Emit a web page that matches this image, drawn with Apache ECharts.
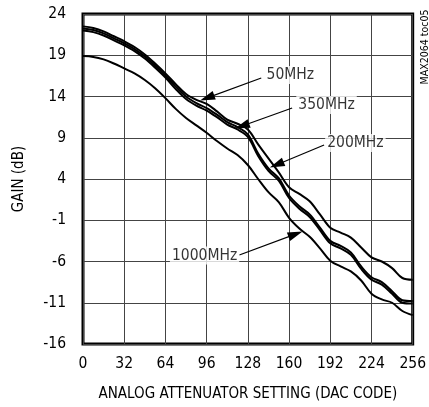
<!DOCTYPE html>
<html>
<head>
<meta charset="utf-8">
<script src="https://cdn.jsdelivr.net/npm/echarts@6/dist/echarts.min.js"></script>
<style>
html,body{margin:0;padding:0;background:#fff;}
#c{width:429px;height:407px;}
</style>
</head>
<body>
<div id="c"></div>
<script>
// DAC codes (x)
const codes = [0,8,16,24,32,40,48,56,64,72,80,88,96,104,112,120,128,136,144,152,160,168,176,184,192,200,208,216,224,232,240,248,256];
// Gain (dB) per frequency
const gain50   = [22.5,22.3,21.9,21.3,20.7,20.0,19.1,18.0,16.8,15.5,14.3,13.6,13.1,12.2,11.2,10.7,10.0,8.2,6.5,4.8,3.0,2.2,1.3,-0.3,-1.9,-2.5,-3.1,-4.3,-5.5,-6.0,-6.8,-8.0,-8.2];
const gain350  = [22.25,22.05,21.65,21.05,20.45,19.75,18.85,17.75,16.55,15.2,14.0,13.2,12.6,11.8,10.9,10.3,9.4,7.1,5.3,4.1,2.0,0.7,-0.3,-1.9,-3.5,-4.1,-4.9,-6.6,-7.9,-8.5,-9.6,-10.7,-10.8];
const gain200  = [22.0,21.8,21.4,20.8,20.2,19.5,18.6,17.5,16.3,14.9,13.7,12.9,12.3,11.5,10.6,10.0,9.1,6.8,5.0,3.8,1.7,0.4,-0.6,-2.2,-3.8,-4.4,-5.2,-6.9,-8.2,-8.8,-9.9,-11.0,-11.1];
const gain1000 = [18.9,18.8,18.5,18.0,17.4,16.8,16.0,15.0,13.8,12.5,11.4,10.5,9.6,8.6,7.7,6.9,5.7,4.0,2.4,1.2,-0.7,-2.0,-3.0,-4.4,-5.9,-6.6,-7.2,-8.3,-9.9,-10.6,-11.0,-12.0,-12.5];
const seriesNames = ['50MHz','350MHz','200MHz','1000MHz'];
// Axis ticks
const xTicks = {min:0, max:256, interval:32};
const yTicks = {min:-16, max:24, interval:5};
// Annotation placement (data coords)
const annLabelPos = [[161.0,16.6],[189.1,12.97],[211.5,8.36],[94.4,-5.27]];
const annLineFrom = [[138.4,16.24],[162.4,12.61],[187.2,8.12],[121.4,-5.21]];
const annLineTo   = [[96.4,13.83],[123.5,10.42],[150.4,5.73],[165.0,-2.68]];

const FONT = "'Liberation Sans Narrow','DejaVu Sans Condensed','Roboto Condensed',sans-serif";
const gains = [gain50, gain350, gain200, gain1000];

const lineSeries = gains.map((g, i) => ({
  name: seriesNames[i],
  type: 'line',
  data: codes.map((c, k) => [c, g[k]]),
  showSymbol: false,
  smooth: 0.35,
  lineStyle: {color: '#000', width: 2},
  z: 3,
  silent: true
}));

lineSeries[0].markLine = {
  silent: true,
  animation: false,
  symbol: ['none', 'path://M5,0L10,16L0,16Z'],
  symbolSize: 12,
  lineStyle: {color: '#000', width: 1.2, type: 'solid'},
  label: {show: false},
  data: annLineFrom.map((f, i) => [
    {coord: f, symbol: 'none'},
    {coord: annLineTo[i], symbol: 'path://M5,0L10,16L0,16Z', symbolSize: [9, 15]}
  ])
};

const labelSeries = {
  type: 'scatter',
  data: annLabelPos.map((p, i) => ({value: p, name: seriesNames[i]})),
  symbolSize: 0,
  z: 5,
  silent: true,
  label: {
    show: true,
    position: 'inside',
    formatter: '{b}',
    fontFamily: FONT,
    fontSize: 15.5,
    color: '#000',
    backgroundColor: '#fff',
    padding: [1, 2]
  }
};

const chart = echarts.init(document.getElementById('c'), null, {renderer: 'canvas'});
chart.setOption({
  animation: false,
  backgroundColor: '#fff',
  grid: {left: 83, right: 15, top: 14, bottom: 63, show: true, borderColor: '#000', borderWidth: 3, backgroundColor: 'transparent'},
  xAxis: {
    type: 'value', min: xTicks.min, max: xTicks.max, interval: xTicks.interval,
    name: 'ANALOG ATTENUATOR SETTING (DAC CODE)', nameLocation: 'middle', nameGap: 43,
    nameTextStyle: {fontFamily: FONT, fontSize: 15, color: '#000'},
    axisLine: {show: false}, axisTick: {show: false},
    axisLabel: {fontFamily: FONT, fontSize: 15.5, color: '#000', margin: 12},
    splitLine: {show: true, lineStyle: {color: '#444', width: 1}}
  },
  yAxis: {
    type: 'value', min: yTicks.min, max: yTicks.max, interval: yTicks.interval,
    name: 'GAIN (dB)', nameLocation: 'middle', nameGap: 56, nameRotate: 90,
    nameTextStyle: {fontFamily: FONT, fontSize: 15, color: '#000'},
    axisLine: {show: false}, axisTick: {show: false},
    axisLabel: {fontFamily: FONT, fontSize: 15.5, color: '#000', margin: 17},
    splitLine: {show: true, lineStyle: {color: '#444', width: 1}}
  },
  graphic: [{
    type: 'text', x: 425, y: 47, rotation: Math.PI / 2,
    style: {text: 'MAX2064 toc05', fontFamily: FONT, fontSize: 10.5, fill: '#000', textAlign: 'center', textVerticalAlign: 'middle'}
  }],
  series: lineSeries.concat([labelSeries])
});
</script>
</body>
</html>
